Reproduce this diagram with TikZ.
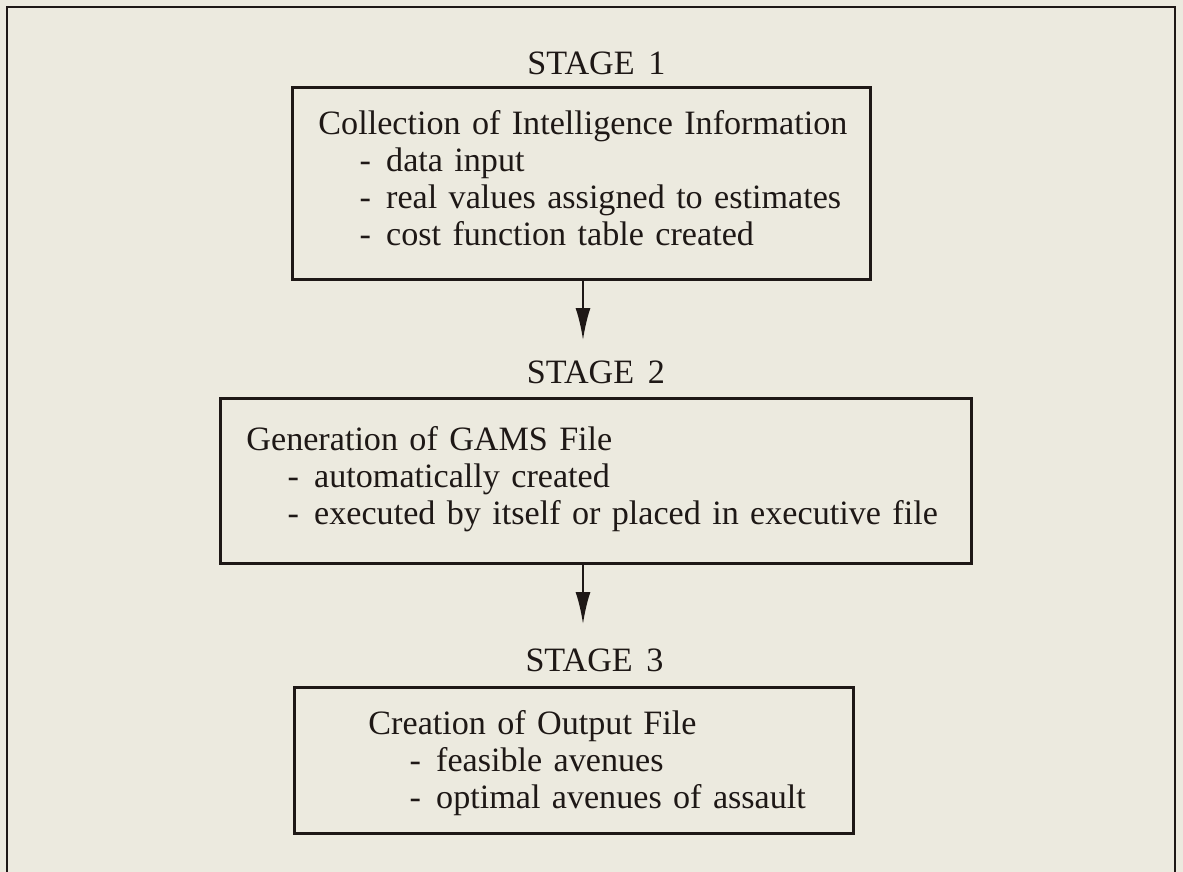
\documentclass[tikz,border=0pt]{standalone}
\usepackage{fontspec}
\setmainfont{Liberation Serif}
\usepackage{xcolor}
\usepackage{tikz}
\usetikzlibrary{arrows.meta,positioning}

\definecolor{paper}{RGB}{236,234,223}
\definecolor{ink}{RGB}{30,24,22}
\newcommand{\subline}[1]{\mbox{\hspace*{15.4pt}\makebox[10pt][l]{-}#1}}

\begin{document}
\begin{tikzpicture}[
  x=0.375pt, y=-0.375pt,
  font=\fontsize{12.8}{13.9}\selectfont,
  box/.style={draw=ink, text=ink, rectangle, align=left, anchor=north west, inner ysep=0pt, text height=9pt, line width=1.1pt},
  stagelabel/.style={text=ink, inner sep=0pt},
  line/.style={draw=ink, -{Latex[length=12pt,width=5.6pt]}, line width=0.8pt},
  frame/.style={draw=ink, line width=1.1pt}
]
\path[use as bounding box, fill=paper] (0,0) rectangle (1183,872);
\draw[frame] (7,876) -- (7,7) -- (1175,7) -- (1175,876);

\node[box, inner xsep=9.75pt, text width=197.25pt, text depth=45.75pt, minimum height=72pt] (collection) at (291,86)
  {\mbox{Collection of Intelligence Information}\\
   \subline{data input}\\
   \subline{real values assigned to estimates}\\
   \subline{cost function table created}};
\node[box, inner xsep=9.75pt, text width=262.125pt, text depth=31.875pt, minimum height=61.875pt] (generation) at (219,397)
  {\mbox{Generation of GAMS File}\\
   \subline{automatically created}\\
   \subline{executed by itself or placed in executive file}};
\node[box, inner xsep=27.75pt, text width=154.125pt, text depth=28.5pt, minimum height=54.75pt] (creation) at (293,686)
  {\mbox{Creation of Output File}\\
   \subline{feasible avenues}\\
   \subline{optimal avenues of assault}};

\node[stagelabel, above=4.1pt of collection, xshift=5.6pt] (stage1) {STAGE\hspace{0.4em}1};
\node[stagelabel, above=4.9pt of generation] (stage2) {STAGE\hspace{0.4em}2};
\node[stagelabel, above=5.25pt of creation, xshift=7.7pt] (stage3) {STAGE\hspace{0.4em}3};

\coordinate (tip1) at (583,340);
\coordinate (tip2) at (583,624);
\draw[line] (collection.south -| tip1) -- (tip1);
\draw[line] (generation.south -| tip2) -- (tip2);
\end{tikzpicture}
\end{document}
